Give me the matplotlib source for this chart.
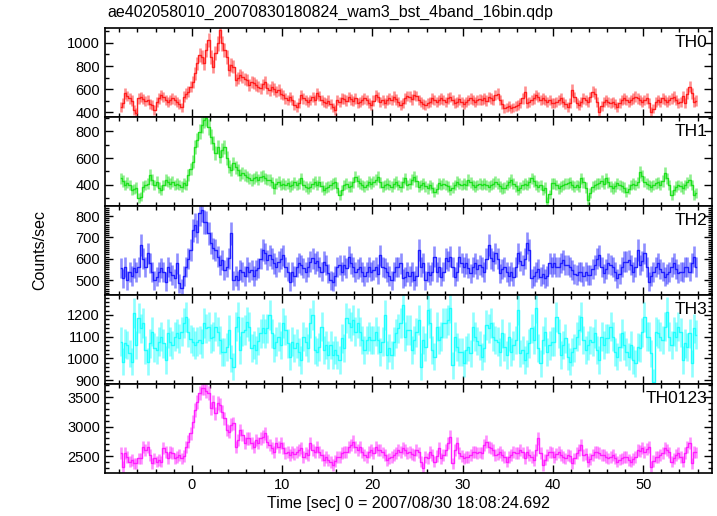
import numpy as np
import matplotlib
matplotlib.use("Agg")
import matplotlib.pyplot as plt
from matplotlib.ticker import MultipleLocator

plt.rcParams['font.family'] = ['Liberation Sans', 'DejaVu Sans']

# 0.25 s bins, first bin starts at -8 s (16 bins per row = 4 s)
bin_size = 0.25
t_start = -8.0

th0 = [
    446, 480, 563, 540, 519, 500, 417, 393, 519, 530, 513, 495, 505, 470, 460, 417,
    490, 520, 548, 530, 505, 490, 505, 520, 505, 490, 470, 440, 534, 560, 577, 620,
    663, 736, 823, 896, 881, 823, 939, 1026, 881, 794, 910, 997, 1113, 997, 939, 881,
    765, 809, 794, 678, 693, 722, 707, 690, 678, 635, 664, 650, 635, 620, 606, 640,
    664, 606, 591, 620, 600, 577, 591, 560, 548, 520, 505, 530, 505, 461, 446, 480,
    548, 520, 505, 490, 505, 530, 505, 563, 540, 505, 490, 476, 500, 470, 440, 417,
    505, 490, 520, 513, 500, 530, 510, 495, 520, 476, 490, 505, 520, 505, 480, 461,
    500, 548, 530, 490, 505, 480, 505, 520, 505, 534, 510, 490, 461, 476, 520, 540,
    533, 510, 548, 540, 505, 490, 470, 461, 480, 490, 520, 505, 490, 505, 520, 505,
    490, 519, 530, 505, 476, 490, 510, 490, 470, 490, 505, 520, 505, 490, 505, 510,
    505, 519, 500, 530, 519, 505, 548, 560, 505, 470, 432, 440, 450, 432, 440, 455,
    461, 480, 520, 577, 476, 490, 505, 520, 548, 530, 505, 520, 505, 490, 505, 476,
    476, 490, 505, 520, 490, 470, 446, 480, 591, 530, 480, 461, 490, 520, 505, 490,
    530, 577, 560, 490, 403, 450, 490, 505, 490, 480, 490, 470, 446, 480, 505, 520,
    505, 490, 505, 520, 534, 520, 505, 490, 505, 520, 480, 403, 430, 490, 505, 490,
    519, 505, 490, 505, 520, 534, 505, 476, 490, 540, 476, 560, 620, 563, 490, 500,
]

th1 = [
    450, 430, 400, 415, 400, 363, 368, 380, 304, 313, 388, 400, 410, 474, 440, 400,
    425, 380, 363, 400, 437, 425, 410, 425, 400, 410, 400, 388, 412, 400, 474, 520,
    573, 684, 733, 795, 845, 882, 894, 832, 758, 709, 635, 684, 610, 659, 684, 600,
    536, 511, 561, 530, 511, 474, 490, 474, 462, 450, 437, 450, 462, 440, 462, 470,
    450, 440, 437, 420, 375, 410, 425, 400, 410, 400, 412, 390, 400, 420, 400, 412,
    450, 400, 388, 375, 388, 410, 425, 400, 425, 390, 363, 380, 388, 400, 412, 420,
    380, 326, 360, 400, 410, 388, 390, 420, 462, 430, 412, 400, 388, 400, 425, 410,
    425, 440, 462, 420, 388, 400, 410, 400, 388, 410, 425, 400, 388, 420, 450, 400,
    410, 440, 462, 430, 388, 400, 412, 390, 375, 400, 380, 351, 370, 412, 400, 410,
    400, 390, 363, 380, 400, 425, 410, 400, 410, 400, 437, 420, 400, 388, 400, 410,
    400, 410, 400, 388, 400, 410, 425, 410, 390, 375, 380, 400, 420, 437, 410, 390,
    363, 380, 400, 410, 400, 420, 450, 430, 400, 388, 400, 363, 380, 276, 330, 412,
    412, 400, 375, 390, 400, 410, 412, 420, 400, 388, 400, 388, 450, 420, 380, 289,
    340, 388, 400, 410, 412, 430, 410, 450, 420, 390, 375, 390, 412, 400, 390, 380,
    351, 370, 400, 410, 400, 420, 499, 470, 425, 410, 400, 388, 400, 412, 420, 400,
    430, 486, 450, 400, 326, 360, 388, 400, 390, 375, 400, 420, 437, 400, 326, 339,
]

th2 = [
    555, 508, 562, 500, 539, 520, 555, 539, 562, 664, 600, 562, 625, 580, 539, 500,
    516, 539, 555, 539, 492, 562, 540, 523, 508, 578, 484, 461, 520, 562, 600, 640,
    734, 758, 726, 812, 828, 773, 770, 720, 672, 648, 640, 609, 570, 594, 547, 562,
    602, 719, 500, 520, 500, 547, 539, 520, 562, 539, 547, 520, 547, 555, 600, 640,
    625, 594, 617, 600, 578, 562, 586, 600, 617, 562, 540, 492, 539, 520, 562, 580,
    570, 555, 539, 560, 586, 602, 578, 590, 562, 540, 586, 570, 531, 500, 492, 520,
    562, 570, 540, 570, 555, 609, 578, 560, 539, 550, 562, 539, 520, 539, 562, 540,
    547, 560, 530, 617, 562, 555, 539, 520, 500, 540, 562, 562, 578, 508, 516, 539,
    520, 539, 500, 520, 640, 562, 580, 500, 539, 523, 540, 609, 539, 560, 516, 540,
    602, 590, 609, 560, 516, 540, 609, 580, 562, 578, 555, 531, 560, 578, 550, 570,
    560, 539, 600, 664, 602, 590, 625, 600, 531, 550, 562, 539, 520, 540, 516, 560,
    625, 590, 570, 600, 672, 640, 508, 520, 539, 550, 516, 530, 508, 520, 578, 560,
    578, 560, 562, 580, 594, 570, 570, 560, 547, 530, 523, 540, 539, 520, 540, 523,
    523, 550, 570, 600, 617, 560, 531, 550, 578, 570, 562, 540, 508, 530, 560, 586,
    586, 594, 570, 539, 560, 640, 570, 590, 625, 560, 492, 520, 539, 560, 578, 550,
    540, 516, 530, 539, 560, 578, 550, 531, 540, 539, 560, 562, 540, 580, 609, 562,
]

th3 = [
    1077, 985, 1069, 1061, 1023, 985, 1208, 1061, 1185, 1138, 1162, 1038, 985, 1069, 1123, 1050,
    1038, 1077, 1100, 1069, 992, 1115, 1077, 1061, 1100, 1115, 1092, 1123, 1162, 1192, 1120, 1090,
    1077, 1061, 1077, 1085, 1069, 1162, 1138, 1146, 1092, 1100, 1146, 1123, 1085, 1031, 1031, 1054,
    1131, 1000, 962, 1146, 1192, 1038, 1123, 1131, 1169, 1146, 1046, 1061, 1038, 1080, 1115, 1138,
    1115, 1138, 1200, 1115, 1046, 1077, 1100, 1061, 1162, 1131, 1069, 1008, 1077, 1046, 1069, 1030,
    992, 1100, 1077, 1046, 1162, 1200, 1038, 1031, 1054, 1146, 1038, 1061, 1015, 1061, 1015, 1040,
    1015, 992, 1092, 1046, 1185, 1162, 1146, 1177, 1123, 1162, 1123, 1085, 1038, 1085, 1100, 1085,
    1085, 1123, 1085, 1031, 1077, 1200, 1015, 1046, 1015, 1077, 1115, 1138, 1162, 1246, 1100, 1131,
    1131, 1038, 1085, 1120, 1177, 962, 1085, 1054, 1223, 1162, 1038, 1008, 1146, 1085, 1100, 1162,
    1162, 1177, 1231, 969, 1100, 1054, 1031, 1031, 977, 1038, 1054, 1023, 1146, 1100, 1080, 1060,
    1008, 1046, 1154, 1138, 1162, 1100, 1085, 1077, 1031, 1115, 1054, 1015, 1100, 1031, 1060, 1085,
    1223, 1023, 1038, 992, 1023, 1069, 1138, 1085, 1231, 1046, 977, 1085, 1123, 1031, 1060, 1077,
    1077, 1192, 1115, 1015, 1061, 1092, 1008, 985, 1031, 1046, 1100, 1131, 1192, 1085, 1038, 1060,
    1085, 1077, 1115, 1038, 992, 1100, 1061, 1092, 1092, 1146, 1100, 1031, 1008, 1054, 1115, 1060,
    1031, 1008, 1061, 992, 977, 1054, 1046, 1120, 1192, 1100, 1100, 1023, 892, 1123, 1115, 1100,
    1085, 1146, 1215, 1100, 1061, 1123, 1100, 1146, 1120, 992, 1069, 1054, 1115, 977, 1138, 1110,
]

th0123 = [
    2545, 2319, 2545, 2489, 2404, 2432, 2376, 2376, 2460, 2460, 2658, 2601, 2658, 2520, 2376, 2460,
    2404, 2432, 2404, 2630, 2573, 2460, 2573, 2545, 2460, 2489, 2517, 2460, 2500, 2658, 2743, 2884,
    3081, 3279, 3420, 3562, 3647, 3647, 3600, 3562, 3308, 3420, 3223, 3393, 3364, 3251, 3139, 2941,
    2913, 3026, 3054, 2658, 2771, 2941, 2856, 2715, 2799, 2799, 2715, 2658, 2771, 2715, 2800, 2828,
    2884, 2743, 2686, 2630, 2573, 2715, 2658, 2715, 2630, 2545, 2573, 2517, 2573, 2540, 2573, 2600,
    2630, 2489, 2545, 2517, 2715, 2601, 2573, 2658, 2573, 2517, 2432, 2489, 2432, 2400, 2347, 2420,
    2489, 2489, 2545, 2573, 2573, 2658, 2686, 2743, 2658, 2601, 2658, 2560, 2517, 2489, 2573, 2601,
    2545, 2658, 2601, 2601, 2560, 2517, 2432, 2460, 2489, 2517, 2545, 2601, 2573, 2630, 2601, 2545,
    2573, 2540, 2517, 2601, 2560, 2404, 2291, 2489, 2460, 2573, 2520, 2404, 2500, 2630, 2460, 2520,
    2601, 2715, 2828, 2376, 2600, 2715, 2545, 2500, 2460, 2489, 2489, 2520, 2573, 2573, 2545, 2560,
    2545, 2686, 2743, 2658, 2630, 2601, 2517, 2540, 2573, 2517, 2490, 2404, 2489, 2520, 2573, 2545,
    2545, 2601, 2560, 2460, 2573, 2520, 2489, 2432, 2601, 2799, 2545, 2347, 2440, 2517, 2573, 2560,
    2489, 2530, 2573, 2517, 2490, 2460, 2517, 2500, 2376, 2460, 2545, 2600, 2686, 2517, 2540, 2404,
    2450, 2517, 2573, 2573, 2550, 2517, 2517, 2490, 2460, 2489, 2517, 2460, 2404, 2440, 2460, 2489,
    2489, 2432, 2404, 2450, 2489, 2601, 2580, 2630, 2573, 2620, 2658, 2319, 2420, 2489, 2489, 2520,
    2545, 2630, 2601, 2560, 2404, 2460, 2517, 2545, 2480, 2404, 2545, 2658, 2715, 2376, 2573, 2560,
]

names = ['TH0', 'TH1', 'TH2', 'TH3', 'TH0123']
series = [th0, th1, th2, th3, th0123]
colors = ['#ff2020', '#20e020', '#2020ff', '#20ffff', '#ff20ff']
ylims = [(357, 1130), (244, 904), (430, 847), (882, 1292), (2212, 3720)]
major = [200, 200, 100, 100, 500]
minor = [100, 100, 10, 20, 100]

fig, axes = plt.subplots(5, 1, sharex=True, figsize=(7.17, 5.16), dpi=100)
fig.subplots_adjust(left=0.1464, right=0.993, top=0.9457, bottom=0.0833, hspace=0)

for i, ax in enumerate(axes):
    rate = np.array(series[i], dtype=float)
    t = t_start + bin_size * (np.arange(len(rate)) + 0.5)
    err = np.sqrt(rate / bin_size)  # poisson errors for 0.25 s bins
    ax.errorbar(t, rate, yerr=err, fmt='none', ecolor=colors[i], elinewidth=1.9, alpha=0.5)
    ax.step(t, rate, where='mid', color=colors[i], lw=1.0)

    ax.set_ylim(*ylims[i])
    ax.set_xlim(-9.6, 57.6)
    ax.yaxis.set_major_locator(MultipleLocator(major[i]))
    ax.yaxis.set_minor_locator(MultipleLocator(minor[i]))
    ax.xaxis.set_major_locator(MultipleLocator(10))
    ax.xaxis.set_minor_locator(MultipleLocator(2))
    ax.tick_params(which='both', direction='in', top=True, right=True, labelsize=10.5, width=1.0)
    ax.tick_params(which='major', length=6)
    ax.tick_params(which='minor', length=3)
    for s in ax.spines.values():
        s.set_linewidth(1.2)
    ax.text(0.993, 0.92, names[i], transform=ax.transAxes, ha='right', va='top', fontsize=12.5)

axes[-1].set_xlabel('Time [sec] 0 = 2007/08/30 18:08:24.692', fontsize=11.5, labelpad=3)
fig.text(0.056, 0.515, 'Counts/sec', rotation=90, ha='center', va='center', fontsize=11.5)
fig.text(107 / 717, 1 - 12 / 516, 'ae402058010_20070830180824_wam3_bst_4band_16bin.qdp',
         ha='left', va='center', fontsize=11.5)

plt.savefig('out.png', dpi=100)
